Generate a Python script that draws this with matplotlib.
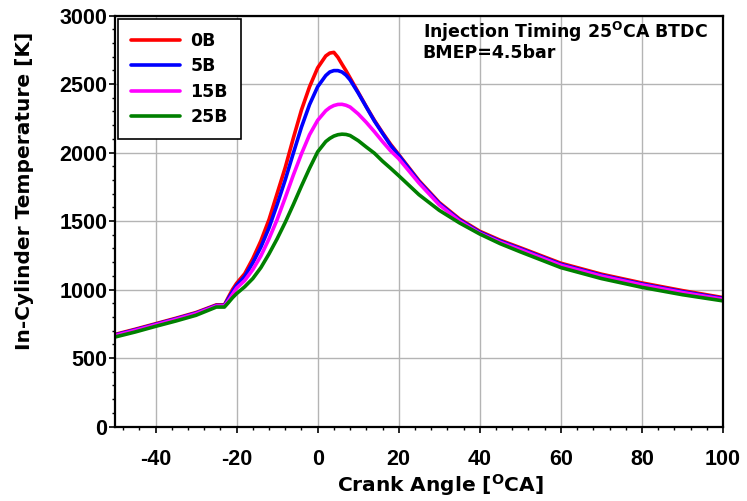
import matplotlib
matplotlib.use("Agg")
import matplotlib.pyplot as plt
from matplotlib.ticker import MultipleLocator

# crank angle points
crank_angle = [-50, -45, -40, -35, -30, -25, -23, -22, -21, -20,
               -18, -16, -14, -12, -10, -8, -6, -4, -2, 0,
               2, 3, 4, 5, 6, 7, 8, 10, 12, 14, 16, 18, 20,
               25, 30, 35, 40, 45, 50, 60, 70, 80, 90, 100]

temp_0B = [672, 710, 750, 790, 832, 888, 888, 945, 1000, 1045,
           1115, 1225, 1355, 1510, 1700, 1890, 2105, 2310, 2480, 2618,
           2705, 2726, 2731, 2695, 2645, 2597, 2545, 2440, 2335, 2235, 2145, 2060, 1985,
           1795, 1635, 1515, 1425, 1360, 1305, 1192, 1112, 1048, 992, 941]
temp_5B = [668, 706, 746, 786, 828, 884, 884, 935, 985, 1030,
           1095, 1195, 1310, 1450, 1620, 1800, 1995, 2185, 2350, 2480,
           2562, 2588, 2598, 2598, 2588, 2565, 2530, 2435, 2332, 2230, 2140, 2052, 1980,
           1788, 1628, 1508, 1418, 1353, 1298, 1184, 1104, 1040, 984, 935]
temp_15B = [664, 702, 742, 782, 824, 880, 880, 920, 965, 1010,
            1065, 1145, 1245, 1370, 1510, 1670, 1835, 1990, 2130, 2235,
            2305, 2328, 2343, 2351, 2352, 2345, 2332, 2282, 2220, 2152, 2080, 2012, 1955,
            1777, 1618, 1500, 1411, 1346, 1291, 1177, 1098, 1034, 978, 929]
temp_25B = [653, 690, 731, 770, 812, 872, 872, 905, 940, 970,
            1020, 1080, 1160, 1260, 1370, 1490, 1620, 1755, 1885, 2005,
            2080, 2103, 2120, 2130, 2134, 2132, 2124, 2087, 2040, 1995, 1937, 1885, 1831,
            1692, 1578, 1486, 1405, 1335, 1275, 1160, 1080, 1016, 962, 917]

series = [("0B", temp_0B, "#ff0000"),
          ("5B", temp_5B, "#0000ff"),
          ("15B", temp_15B, "#ff00ff"),
          ("25B", temp_25B, "#008000")]

plt.rcParams["mathtext.fontset"] = "dejavusans"
plt.rcParams["axes.unicode_minus"] = False

fig = plt.figure(figsize=(7.47, 5.01), dpi=100)
ax = fig.add_axes([0.1539, 0.1487, 0.814, 0.8203])

for name, vals, col in series:
    ax.plot(crank_angle, vals, color=col, lw=2.6, label=name,
            solid_joinstyle="round", solid_capstyle="round")

ax.set_xlim(-50, 100)
ax.set_ylim(0, 3000)
ax.xaxis.set_major_locator(MultipleLocator(20))
ax.xaxis.set_minor_locator(MultipleLocator(4))
ax.yaxis.set_major_locator(MultipleLocator(500))
ax.yaxis.set_minor_locator(MultipleLocator(100))
ax.grid(True, which="major", color="#b4b4b4", lw=1.0)
ax.set_axisbelow(True)

for sp in ax.spines.values():
    sp.set_linewidth(1.6)
ax.tick_params(which="major", direction="out", length=4, width=1.2, color="black")
ax.tick_params(which="minor", direction="out", length=2.5, width=1.0, color="black")
ax.tick_params(axis="x", which="major", pad=12)
ax.tick_params(axis="y", which="major", pad=1.5)
for lab in ax.get_xticklabels() + ax.get_yticklabels():
    lab.set_fontfamily("Liberation Sans")
    lab.set_fontweight("bold")
    lab.set_fontsize(15.5)

ax.set_xlabel(r"Crank Angle [$^{\mathbf{O}}$CA]", fontsize=14.5, fontweight="bold",
              family="DejaVu Sans", va="center")
ax.xaxis.set_label_coords(0.535, -0.142)
ax.set_ylabel("In-Cylinder Temperature [K]", fontsize=14.5, fontweight="bold",
              family="DejaVu Sans", va="center")
ax.yaxis.set_label_coords(-0.148, 0.573)

ax.text(0.506, 0.9445, r"Injection Timing 25$^{\mathbf{O}}$CA BTDC", transform=ax.transAxes,
        fontsize=12.5, fontweight="bold", family="DejaVu Sans", va="baseline", ha="left")
ax.text(0.506, 0.8959, "BMEP=4.5bar", transform=ax.transAxes,
        fontsize=12.5, fontweight="bold", family="DejaVu Sans", va="baseline", ha="left")

leg = ax.legend(loc="upper left", prop={"family": "DejaVu Sans", "weight": "bold", "size": 12.5},
                handlelength=2.8, handletextpad=0.6, borderpad=0.75, labelspacing=0.42,
                borderaxespad=0.2, fancybox=False, framealpha=1)
leg.get_frame().set_edgecolor("black")
leg.get_frame().set_linewidth(1.2)
for ln in leg.get_lines():
    ln.set_linewidth(2.6)

fig.savefig("out.png", dpi=100)
